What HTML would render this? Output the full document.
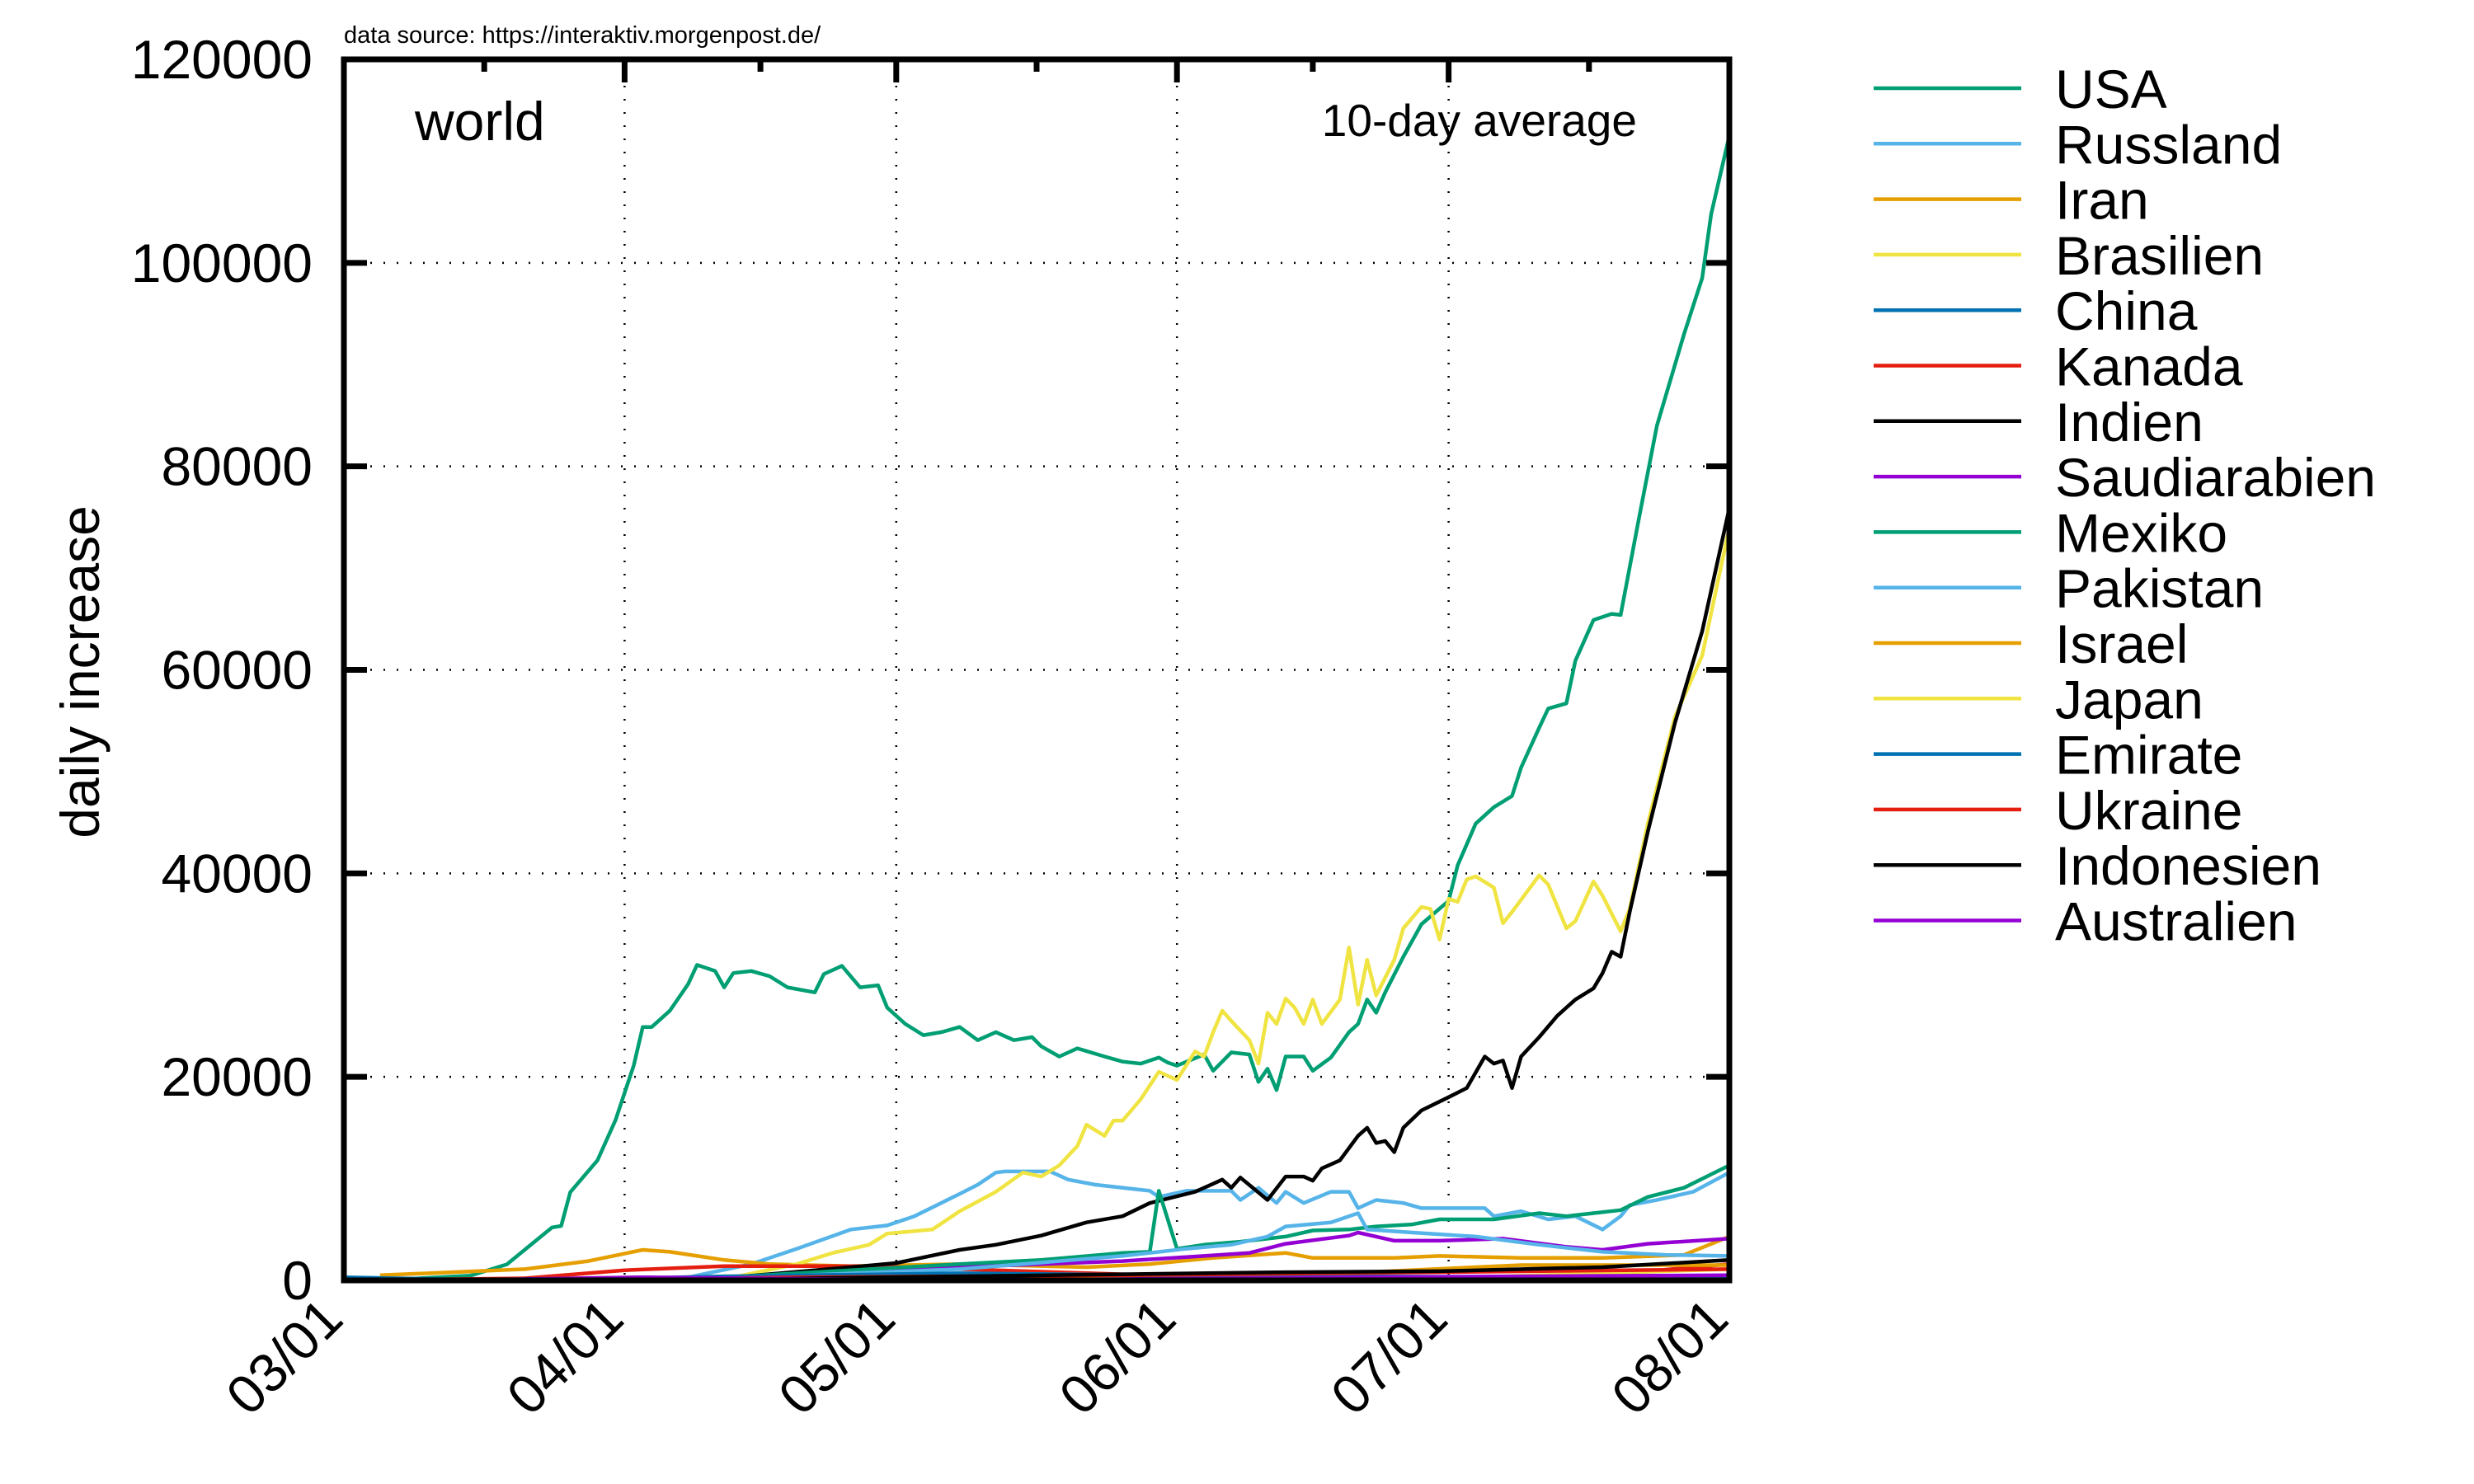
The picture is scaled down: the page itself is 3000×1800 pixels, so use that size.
<!DOCTYPE html>
<html><head><meta charset="utf-8"><style>
html,body{margin:0;padding:0;background:#fff;}
svg{display:block;font-family:"Liberation Sans",Arial,sans-serif;}
</style></head><body>
<svg id="chart" width="3000" height="1800" viewBox="0 0 3000 1800" xmlns="http://www.w3.org/2000/svg">
<rect width="3000" height="1800" fill="#fff"/>
<g id="grid"></g>
<g id="series"></g>
<g id="axes"></g>
<g id="legend"></g>
<text x="417" y="52" font-size="29">data source: https://interaktiv.morgenpost.de/</text>
<text x="503" y="170" font-size="66">world</text>
<text x="1985" y="165" font-size="55" text-anchor="end">10-day average</text>
<text transform="translate(120,815) rotate(-90)" font-size="66" text-anchor="middle">daily increase</text>
</svg>
<script>
const yTicks=[0,20000,40000,60000,80000,100000,120000];
const xTickDays=[0,31,61,92,122,153];
const xTickLabels=["03/01","04/01","05/01","06/01","07/01","08/01"];
const names=["USA","Russland","Iran","Brasilien","China","Kanada","Indien","Saudiarabien","Mexiko","Pakistan","Israel","Japan","Emirate","Ukraine","Indonesien","Australien"];
const colors=["#009e73","#56b4e9","#e69f00","#f0e442","#0072b2","#e51e10","#000000","#9400d3"];

const usaDays=[4,14,18,23,24,25,28,30,32,33,34,36,38,39,41,42,43,45,47,49,52,53,55,57,59,60,62,64,66,68,70,72,74,76,77,79,81,84,86,88,90,91,92,95,96,98,100,101,102,103,104,106,107,109,111,112,113,114,115,117,119,122,123,125,127,129,130,132,133,135,136,138,140,141,143,145,148,150,151,153];
const usaVals=[0,470,1570,5200,5350,8660,11800,15750,21100,24900,24900,26500,29100,31000,30400,28800,30200,30400,29900,28800,28300,30100,30900,28800,29000,26800,25200,24100,24400,24900,23600,24400,23600,23900,23000,22000,22800,22000,21500,21300,21900,21400,21100,22200,20600,22400,22200,19500,20800,18700,22000,22000,20600,21900,24400,25200,27600,26300,28300,31800,35000,37300,40800,44900,46500,47600,50400,54300,56200,56700,60900,64900,65500,65400,74800,84000,93000,98500,104800,112500];
const russDays=[38,45,50,56,60,63,68,70,72,73,78,80,83,89,90,93,98,99,101,103,104,106,109,111,112,114,117,119,126,127,130,133,136,139,141,142,145,149,153];
const russVals=[300,1600,3100,5000,5400,6300,8500,9400,10600,10700,10700,9900,9400,8800,8200,8800,8800,7900,9100,7600,8700,7600,8700,8700,7100,7900,7600,7100,7100,6300,6800,6000,6300,5000,6300,7400,7900,8700,10600];
const iranDays=[4,12,20,27,33,36,42,47,56,68,82,89,96,104,107,116,121,130,139,148,153];
const iranVals=[500,800,1100,1900,3000,2800,2000,1600,1400,1600,1300,1600,2200,2700,2200,2200,2400,2200,2200,2500,4300];
const brasDays=[30,43,50,54,58,60,65,68,72,75,77,79,81,82,84,85,86,88,90,92,94,95,96,97,98,100,101,102,103,104,105,106,107,108,110,111,112,113,114,116,117,119,120,121,122,123,124,125,127,128,129,132,133,135,136,138,139,141,142,144,147,150,153];
const brasVals=[50,300,1600,2700,3500,4600,5000,6800,8700,10600,10200,11300,13200,15300,14200,15700,15700,17800,20500,19700,22500,22000,24400,26500,25500,23600,21300,26300,25200,27700,26800,25200,27600,25200,27600,32700,27100,31500,28000,31500,34600,36700,36500,33500,37500,37200,39400,39700,38600,35100,36200,39800,38900,34600,35300,39200,37800,34300,36500,44900,55400,61400,74000];
const chinaDays=[0,12,33,153];
const chinaVals=[300,100,50,50];
const kanDays=[0,20,31,42,58,68,86,104,121,139,153];
const kanVals=[0,200,1000,1400,1400,1100,600,300,300,500,1600];
const indDays=[20,43,56,61,68,72,77,82,86,89,94,96,97,98,99,102,104,106,107,108,110,112,113,114,115,116,117,119,122,124,126,127,128,129,130,132,134,136,138,139,140,141,142,144,147,150,153];
const indVals=[0,300,1300,1700,3000,3500,4400,5700,6300,7600,8700,9500,9900,9100,10100,7900,10200,10200,9800,11000,11800,14200,15000,13500,13700,12600,15000,16700,18000,18900,22000,21300,21600,18900,22000,23900,26000,27600,28700,30200,32300,31800,36200,44100,54800,63800,75900];
const saudDays=[20,42,68,86,95,100,104,111,112,116,121,128,135,139,144,153];
const saudVals=[0,300,1300,1900,2400,2700,3600,4400,4700,3900,3900,4100,3300,3000,3600,4100];
const mexDays=[30,42,68,77,86,89,90,92,95,99,104,107,111,114,118,121,127,132,135,141,144,148,153];
const mexVals=[0,300,1600,2000,2700,2800,8800,3100,3500,3800,4300,4900,5000,5300,5500,6000,6000,6600,6300,6900,8200,9100,11300];
const pakDays=[20,42,68,86,93,98,102,104,109,112,113,118,125,132,139,146,153];
const pakVals=[0,200,1100,2400,3100,3500,4300,5300,5700,6600,5000,4700,4300,3500,2800,2500,2400];
const israelDays=[10,33,50,95,113,130,153];
const israelVals=[0,300,100,200,800,1500,1500];
const japanDays=[20,42,68,121,139,153];
const japanVals=[0,400,100,200,700,1100];
const emirDays=[20,42,68,104,153];
const emirVals=[0,400,700,400,300];
const ukrDays=[20,50,86,121,153];
const ukrVals=[0,300,500,800,1100];
const indoDays=[20,42,68,104,121,139,153];
const indoVals=[0,100,400,800,900,1300,2000];
const ausDays=[10,33,68,130,153];
const ausVals=[0,300,20,400,500];

const allDays=[usaDays,russDays,iranDays,brasDays,chinaDays,kanDays,indDays,saudDays,mexDays,pakDays,israelDays,japanDays,emirDays,ukrDays,indoDays,ausDays];
const allVals=[usaVals,russVals,iranVals,brasVals,chinaVals,kanVals,indVals,saudVals,mexVals,pakVals,israelVals,japanVals,emirVals,ukrVals,indoVals,ausVals];

const L=417,R=2097,T=72,B=1553,DMAX=153,YMAX=120000;
const sx=d=>L+d/DMAX*(R-L);
const sy=v=>B-v/YMAX*(B-T);
const NS="http://www.w3.org/2000/svg";
function mk(tag,attrs,parent){const e=document.createElementNS(NS,tag);for(const k in attrs)e.setAttribute(k,attrs[k]);parent.appendChild(e);return e;}
const grid=document.getElementById('grid'),series=document.getElementById('series'),axes=document.getElementById('axes'),legend=document.getElementById('legend');

yTicks.forEach(v=>{
  if(v>0&&v<YMAX){const g=mk('line',{x1:L,x2:R,y1:sy(v),y2:sy(v),stroke:'#000','stroke-width':2.5,'stroke-dasharray':'2 14'},grid);
  
  }
  const t=mk('line',{x1:L,x2:L+28,y1:sy(v),y2:sy(v),stroke:'#000','stroke-width':7},axes);
  
  
  const t2=mk('line',{x1:R-28,x2:R,y1:sy(v),y2:sy(v),stroke:'#000','stroke-width':7},axes);
  
  
  const lb=mk('text',{x:L-38,y:sy(v)+23,'font-size':66,'text-anchor':'end'},axes);
  lb.textContent=String(v);
  
  
});
xTickDays.forEach((d,i)=>{
  if(i>0&&i<xTickDays.length-1){const g=mk('line',{x1:sx(d),x2:sx(d),y1:T,y2:B,stroke:'#000','stroke-width':2.5,'stroke-dasharray':'2 14'},grid);
  
  }
  const t=mk('line',{x1:sx(d),x2:sx(d),y1:T,y2:T+28,stroke:'#000','stroke-width':7},axes);
  
  
  if(i<xTickDays.length-1){const m=(d+xTickDays[i+1])/2;
    const mt=mk('line',{x1:sx(m),x2:sx(m),y1:T,y2:T+15,stroke:'#000','stroke-width':7},axes);
    
    }
  const lb=mk('text',{transform:`translate(${sx(d)+2},${B+50}) rotate(-45)`,'font-size':66,'text-anchor':'end'},axes);
  lb.textContent=xTickLabels[i];
  
  
});

allDays.forEach((days,i)=>{
  const vals=allVals[i];
  const pts=days.map((d,j)=>sx(d).toFixed(1)+','+sy(vals[j]).toFixed(1)).join(' ');
  const p=mk('polyline',{points:pts,fill:'none',stroke:colors[i%8],'stroke-width':4.5,'stroke-linejoin':'round'},series);
  
  
});

const border=mk('rect',{x:L,y:T,width:R-L,height:B-T,fill:'none',stroke:'#000','stroke-width':7},axes);



names.forEach((n,i)=>{
  const y=107+i*67.3;
  const g=mk('g',{},legend);
  
  
  mk('line',{x1:2272,x2:2451,y1:y,y2:y,stroke:colors[i%8],'stroke-width':4.5},g);
  const t=mk('text',{x:2492,y:y+24,'font-size':66},g);
  t.textContent=n;
});
</script>
</body></html>
